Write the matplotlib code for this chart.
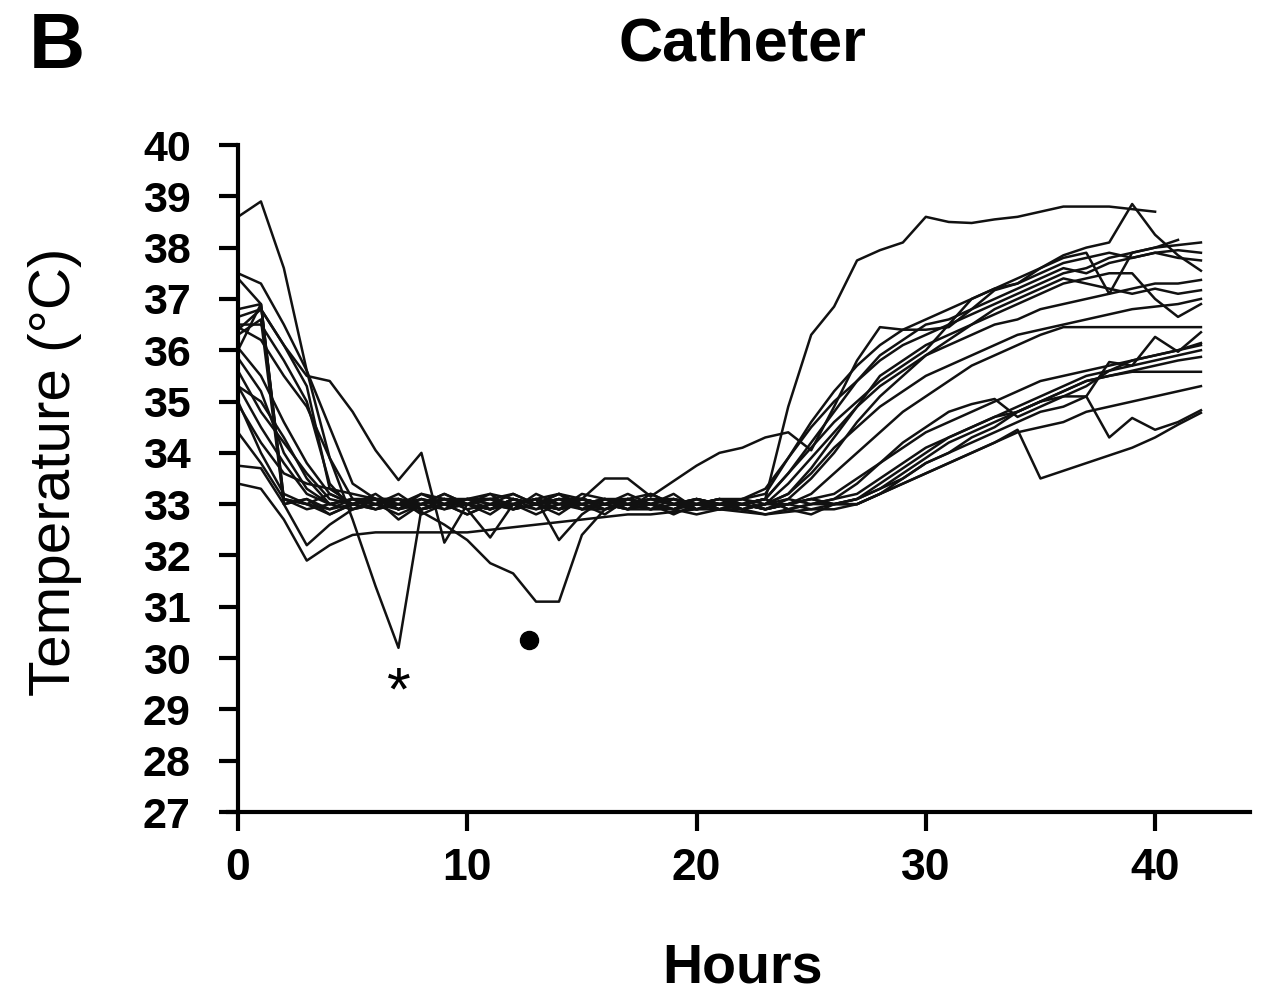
import numpy as np
import matplotlib
matplotlib.use('Agg')
import matplotlib.pyplot as plt

plt.rcParams['font.family'] = ['Liberation Sans', 'DejaVu Sans']

nan = float('nan')
hours = list(range(43))

# hourly catheter temperatures, one list per patient (h 0..42)
p01 = [38.6, 38.9, 37.6, 35.6, 33.9, 33.1, 33.0, 33.2, 32.9, 33.0,
       32.8, 33.0, 33.2, 33.0, 32.9, 33.1, 33.0, 32.9, 33.2, 33.0,
       33.0, 32.9, 33.0, 33.1, 34.9, 36.3, 36.85, 37.75, 37.95, 38.1,
       38.6, 38.5, 38.48, 38.55, 38.6, 38.7, 38.8, 38.8, 38.8, 38.75,
       38.7, nan, nan]
p02 = [37.5, 37.3, 36.5, 35.6, 34.5, 33.4, 33.1, 32.9, 33.2, 33.0,
       33.1, 33.2, 32.9, 33.0, 33.2, 33.1, 32.9, 33.1, 33.0, 32.8,
       33.0, 33.1, 33.1, 33.3, 33.9, 34.5, 35.0, 35.4, 35.8, 36.1,
       36.3, 36.5, 36.7, 36.9, 37.1, 37.3, 37.5, 37.6, 37.8, 37.9,
       38.0, 38.05, 38.1]
p03 = [37.4, 36.9, 33.0, 33.1, 32.9, 33.0, 33.1, 32.7, 33.0, 33.2,
       33.0, 32.9, 33.1, 33.0, 33.2, 32.9, 33.1, 33.0, 33.0, 33.2,
       32.9, 33.0, 33.0, 33.1, 33.6, 34.2, 34.8, 35.4, 35.9, 36.2,
       36.5, 36.6, 36.8, 37.0, 37.2, 37.4, 37.6, 37.5, 37.7, 37.8,
       37.9, 37.8, 37.75]
p04 = [36.8, 36.9, 33.1, 33.0, 33.2, 33.0, 32.9, 33.1, 33.0, 32.9,
       33.1, 33.1, 32.9, 33.0, 32.8, 33.1, 33.0, 33.2, 33.0, 33.1,
       32.9, 33.0, 33.0, 33.1, 33.6, 34.1, 34.6, 35.0, 35.4, 35.7,
       36.0, 36.5, 37.0, 37.2, 37.4, 37.6, 37.85, 38.0, 38.1, 38.85,
       38.25, 37.85, 37.55]
p05 = [36.65, 36.8, 36.1, 35.3, 33.3, 33.0, 33.1, 32.9, 33.0, 33.1,
       32.9, 32.35, 33.0, 33.1, 32.9, 33.0, 32.8, 33.1, 33.0, 32.9,
       33.1, 33.0, 32.9, 33.0, 33.4, 33.9, 34.4, 34.9, 35.3, 35.6,
       35.9, 36.1, 36.3, 36.5, 36.6, 36.8, 36.9, 37.0, 37.1, 37.2,
       37.3, 37.3, 37.37]
p06 = [36.5, 36.5, 35.8, 35.0, 33.4, 32.9, 33.0, 33.1, 32.8, 33.0,
       33.1, 32.9, 33.0, 33.1, 32.3, 32.8, 33.1, 33.0, 32.9, 33.0,
       33.0, 33.1, 32.9, 33.0, 33.2, 33.7, 34.3, 34.9, 35.5, 35.8,
       36.1, 36.3, 36.5, 36.8, 37.0, 37.2, 37.4, 37.3, 37.2, 37.1,
       37.2, 37.1, 37.17]
p07 = [36.45, 36.2, 35.5, 34.9, 33.9, 32.7, 31.4, 30.2, 32.9, 33.1,
       33.0, 32.8, 33.1, 33.0, 32.9, 33.2, 33.1, 33.0, 32.9, 33.0,
       33.1, 33.0, 32.9, 33.0, 33.1, 33.5, 34.0, 34.6, 35.1, 35.5,
       35.9, 36.2, 36.5, 36.7, 36.9, 37.1, 37.3, 37.4, 37.5, 37.5,
       37.0, 36.65, 36.9]
p08 = [36.3, 36.6, 33.0, 33.1, 32.8, 33.0, 32.9, 33.0, 33.1, 32.9,
       33.0, 33.2, 33.1, 32.9, 33.0, 33.1, 33.0, 33.1, 33.2, 33.0,
       32.9, 33.0, 33.1, 33.2, 33.9, 34.6, 35.2, 35.7, 36.1, 36.4,
       36.6, 36.8, 37.0, 37.2, 37.3, 37.6, 37.8, 37.9, 37.1, 37.9,
       38.0, 38.15, nan]
p09 = [36.05, 35.5, 34.6, 33.8, 33.2, 33.0, 33.1, 33.1, 32.9, 33.0,
       33.1, 33.1, 33.0, 32.9, 33.1, 33.1, 33.5, 33.5, 33.15, 33.45,
       33.75, 34.0, 34.1, 34.3, 34.4, 34.05, 34.9, 35.8, 36.45, 36.4,
       36.4, 36.45, 36.8, 37.17, 37.3, 37.5, 37.7, 37.8, 37.9, 37.8,
       37.9, 37.95, 37.9]
p10 = [35.85, 35.2, 34.0, 33.3, 33.0, 33.1, 32.9, 33.0, 33.2, 33.1,
       32.9, 33.0, 33.0, 33.1, 33.2, 33.0, 32.9, 33.0, 33.1, 33.0,
       33.1, 32.9, 33.0, 32.9, 33.0, 33.2, 33.6, 34.0, 34.4, 34.8,
       35.1, 35.4, 35.7, 35.9, 36.1, 36.3, 36.45, 36.45, 36.45, 36.45,
       36.45, 36.45, 36.45]
p11 = [35.6, 34.8, 34.2, 33.6, 33.1, 33.0, 33.2, 32.9, 33.1, 33.0,
       33.0, 32.9, 33.1, 33.0, 33.1, 32.9, 33.0, 33.1, 32.9, 33.1,
       33.0, 32.9, 33.0, 33.1, 32.9, 33.0, 33.1, 33.2, 33.5, 33.8,
       34.1, 34.3, 34.5, 34.7, 34.8, 35.0, 35.1, 35.1, 35.77, 35.7,
       36.26, 35.97, 36.35]
p12 = [35.3, 34.5, 33.8, 33.2, 33.0, 32.9, 33.1, 33.0, 32.9, 33.0,
       33.1, 33.0, 32.9, 33.2, 33.0, 33.1, 33.0, 32.9, 33.0, 32.9,
       33.1, 33.0, 33.0, 32.9, 33.0, 33.1, 33.2, 33.5, 33.8, 34.1,
       34.4, 34.6, 34.8, 35.0, 35.2, 35.4, 35.5, 35.6, 35.7, 35.8,
       35.9, 36.0, 36.14]
p13 = [34.95, 34.2, 33.6, 33.4, 33.3, 33.2, 33.1, 33.0, 32.85, 32.6,
       32.3, 31.85, 31.65, 31.1, 31.1, 32.4, 32.9, 33.0, 33.1, 33.1,
       33.0, 32.9, 33.0, 33.1, 32.9, 33.0, 33.0, 33.1, 33.4, 33.7,
       34.0, 34.3, 34.5, 34.7, 34.9, 35.1, 35.3, 35.5, 35.6, 35.7,
       35.8, 35.9, 36.0]
p14 = [36.4, 36.8, 36.1, 35.5, 35.4, 34.8, 34.05, 33.47, 34.0, 32.25,
       33.0, 32.9, 33.1, 33.0, 33.1, 32.9, 33.0, 33.1, 33.0, 32.9,
       33.0, 33.1, 33.0, 32.9, 33.0, 33.1, 33.0, 33.1, 33.3, 33.6,
       33.9, 34.2, 34.4, 34.6, 34.8, 35.0, 35.2, 35.4, 35.5, 35.6,
       35.7, 35.8, 35.87]
p15 = [35.0, 34.0, 33.2, 33.0, 32.9, 33.1, 33.0, 32.8, 33.0, 33.1,
       33.1, 33.0, 32.9, 33.0, 33.1, 33.0, 33.1, 32.9, 33.0, 33.1,
       33.0, 33.0, 33.1, 32.9, 33.0, 32.9, 33.0, 33.0, 33.2, 33.5,
       33.8, 34.0, 34.3, 34.5, 34.8, 35.0, 35.2, 35.4, 35.5, 35.58,
       35.58, 35.58, 35.58]
p16 = [33.75, 33.7, 33.0, 32.2, 32.6, 32.9, 33.0, 32.9, 33.1, 33.0,
       32.8, 33.0, 33.0, 32.8, 33.0, 33.1, 33.0, 32.9, 32.9, 32.9,
       32.8, 32.9, 32.9, 32.8, 32.9, 32.8, 33.0, 33.1, 33.3, 33.5,
       33.8, 34.0, 34.2, 34.4, 34.6, 34.8, 34.9, 35.1, 34.3, 34.68,
       34.45, 34.6, 34.83]
p17 = [33.4, 33.3, 32.7, 31.9, 32.2, 32.4, 32.45, 32.45, 32.45, 32.45,
       32.45, 32.5, 32.55, 32.6, 32.65, 32.7, 32.75, 32.8, 32.8, 32.85,
       32.9, 32.9, 32.85, 32.8, 32.85, 32.9, 32.9, 33.0, 33.2, 33.4,
       33.6, 33.8, 34.0, 34.2, 34.45, 33.5, 33.65, 33.8, 33.95, 34.1,
       34.3, 34.55, 34.78]
p18 = [35.3, 35.0, 34.3, 33.5, 33.0, 33.1, 33.1, 32.9, 33.0, 33.1,
       33.0, 33.1, 33.2, 33.0, 32.9, 33.0, 33.1, 33.1, 33.0, 32.9,
       33.0, 33.1, 33.0, 32.9, 33.1, 33.0, 33.1, 33.4, 33.8, 34.2,
       34.5, 34.8, 34.95, 35.05, 34.7, 34.9, 35.1, 35.3, 35.6, 35.8,
       35.9, 36.0, 36.1]
p19 = [36.0, 36.9, 33.1, 32.9, 33.0, 33.1, 33.0, 33.1, 33.0, 33.2,
       33.0, 32.9, 33.1, 33.0, 32.9, 33.0, 33.1, 33.0, 33.1, 33.0,
       32.9, 33.0, 33.1, 33.0, 33.2, 33.6, 34.1, 34.5, 34.9, 35.2,
       35.5, 35.7, 35.9, 36.1, 36.3, 36.4, 36.5, 36.6, 36.7, 36.8,
       36.85, 36.9, 37.0]
p20 = [34.4, 33.8, 33.1, 33.0, 32.8, 33.0, 33.1, 33.1, 32.9, 33.0,
       33.0, 33.1, 33.0, 33.1, 33.0, 32.9, 32.9, 33.0, 33.1, 33.0,
       33.1, 33.0, 32.9, 33.0, 33.0, 33.1, 33.0, 33.0, 33.2, 33.4,
       33.6, 33.8, 34.0, 34.2, 34.4, 34.5, 34.6, 34.8, 34.9, 35.0,
       35.1, 35.2, 35.3]

patients = [p01, p02, p03, p04, p05, p06, p07, p08, p09, p10,
            p11, p12, p13, p14, p15, p16, p17, p18, p19, p20]

# annotations
star_pos = (7.0, 29.3)
dot_pos = (12.7, 30.35)

fig = plt.figure(figsize=(12.63, 9.97), dpi=100)
ax = fig.add_axes([228 / 1263, 185 / 997, 1022 / 1263, 667 / 997])

for p in patients:
    ax.plot(hours, p, color='#111111', lw=1.8)

ax.text(star_pos[0], star_pos[1], '*', fontsize=44, ha='center', va='center')
ax.plot(*dot_pos, 'o', color='black', ms=13)

ax.set_xlim(-0.436, 44.14)
ax.set_ylim(27, 40)
ax.spines['left'].set_position(('data', 0))
ax.spines['top'].set_visible(False)
ax.spines['right'].set_visible(False)
for s in ['left', 'bottom']:
    ax.spines[s].set_linewidth(3)

ax.set_xticks([0, 10, 20, 30, 40])
ax.set_yticks(range(27, 41))
ax.tick_params(axis='y', length=14, width=3, pad=20, labelsize=31)
ax.tick_params(axis='x', length=14, width=3, pad=12, labelsize=32)
for lab in ax.get_xticklabels() + ax.get_yticklabels():
    lab.set_fontweight('bold')

fig.text(742 / 1263, 1 - 45 / 997, 'Catheter', fontsize=44, fontweight='bold',
         ha='center', va='center')
fig.text(57 / 1263, 1 - 48 / 997, 'B', fontsize=56, fontweight='bold',
         ha='center', va='center')
fig.text(742 / 1263, 1 - 968 / 997, 'Hours', fontsize=40, fontweight='bold',
         ha='center', va='center')
fig.text(55 / 1263, 1 - 472 / 997, 'Temperature (°C)', fontsize=42,
         rotation=90, ha='center', va='center')

fig.savefig('out.png', dpi=100)
